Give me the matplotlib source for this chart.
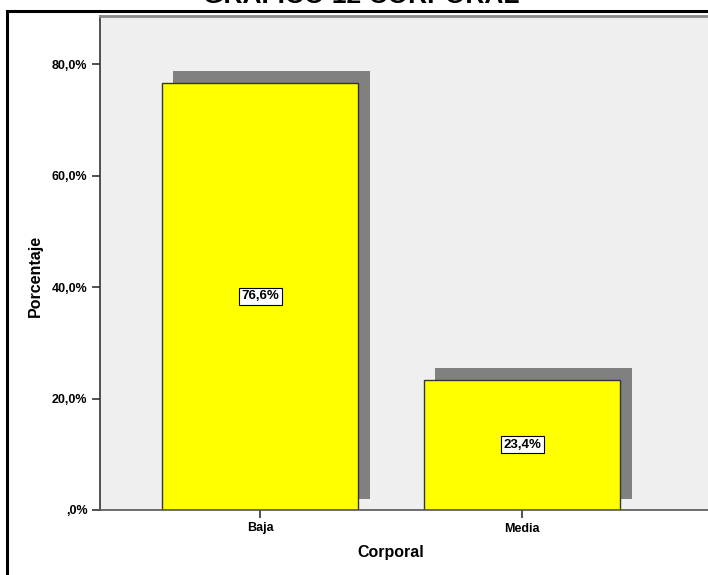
import matplotlib
matplotlib.use("Agg")
import matplotlib.pyplot as plt
from matplotlib.patches import Rectangle
from matplotlib.ticker import FuncFormatter
import numpy as np

plt.rcParams['font.family'] = ['Liberation Sans', 'DejaVu Sans']
plt.rcParams['font.weight'] = 'bold'

# datos
categorias = ["Baja", "Media"]
porcentajes = [76.6, 23.4]
titulo = "GRAFICO 12 CORPORAL"
eje_x = "Corporal"
eje_y = "Porcentaje"

W, H = 708, 575
fig = plt.figure(figsize=(W / 100, H / 100), dpi=100)


def fx(px):
    return px / W


def fy(py):
    return 1 - py / H


# marco exterior (solo se ven los lados izquierdo y superior)
fig.patches.append(Rectangle((fx(7), -0.2), 1.5, fy(11) + 0.2, transform=fig.transFigure,
                             fill=False, edgecolor='black', linewidth=2.2, zorder=0))

# el titulo queda en el borde superior de la imagen
fig.text(fx(361), fy(3), titulo, ha='center', va='baseline', fontsize=19, fontweight='bold')

ax = fig.add_axes([fx(100), fy(510), 1.0 - fx(100), fy(16) - fy(510)])
ax.set_facecolor('#efefef')

x = np.arange(len(categorias))
ancho = 0.75
ymax = (510 - 16) / 111.5 * 20
ax.set_ylim(0, ymax)
ax.set_xlim(-0.611, -0.611 + 608 / 262)

# sombra desplazada de cada barra
dx = 11.5 / 262
dy = 11.5 / 111.5 * 20
ax.bar(x + dx, porcentajes, ancho, bottom=dy, color='#808080', zorder=1, linewidth=0)
ax.bar(x, porcentajes, ancho, color='#ffff00', edgecolor='#333333', linewidth=1.0, zorder=2)

for xi, v in zip(x, porcentajes):
    ax.text(xi, v / 2, f"{v:.1f}%".replace('.', ','), ha='center', va='center',
            fontsize=9.5, fontweight='bold', zorder=3,
            bbox=dict(boxstyle='square,pad=0.2', facecolor='white', edgecolor='black', linewidth=0.8))

ax.set_yticks([0, 20, 40, 60, 80])
ax.yaxis.set_major_formatter(FuncFormatter(lambda v, p: ",0%" if v == 0 else f"{v:.1f}%".replace('.', ',')))
ax.set_xticks(x)
ax.set_xticklabels(categorias)
ax.tick_params(axis='both', labelsize=9, length=6, width=1.2, color='#333333', pad=3)
for lbl in ax.get_xticklabels() + ax.get_yticklabels():
    lbl.set_fontweight('bold')

ax.spines['right'].set_visible(False)
ax.spines['left'].set_color('#333333')
ax.spines['left'].set_linewidth(1.2)
ax.spines['bottom'].set_color('#555555')
ax.spines['bottom'].set_linewidth(1.2)
ax.spines['top'].set_color('#8a8a8a')
ax.spines['top'].set_linewidth(2)

fig.text(fx(391), fy(552), eje_x, ha='center', va='center', fontsize=11.5, fontweight='bold')
fig.text(fx(35), fy(276), eje_y, ha='center', va='center', rotation=90, fontsize=11.5, fontweight='bold')

fig.savefig("out.png", dpi=100)
